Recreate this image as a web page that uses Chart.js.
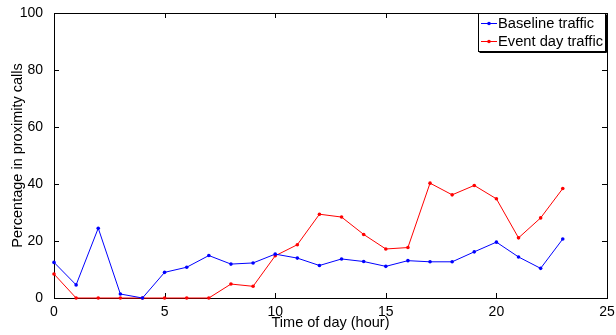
<!DOCTYPE html>
<html>
<head>
<meta charset="utf-8">
<script src="https://cdn.jsdelivr.net/npm/chart.js@4.4.0/dist/chart.umd.min.js"></script>
<style>
  html, body { margin: 0; padding: 0; background: #fff; }
  #wrap { width: 616px; height: 335px; }
</style>
</head>
<body>
<div id="wrap"><canvas id="chart" width="616" height="335"></canvas></div>
<script>
// 数据
const hours = [0, 1, 2, 3, 4, 5, 6, 7, 8, 9, 10, 11, 12, 13, 14, 15, 16, 17, 18, 19, 20, 21, 22, 23];
const baselineTraffic = [12.5, 4.6, 24.5, 1.4, 0, 9.0, 10.8, 14.9, 11.9, 12.3, 15.4, 14.0, 11.4, 13.7, 12.8, 11.1, 13.1, 12.7, 12.7, 16.2, 19.6, 14.4, 10.4, 20.7];
const eventTraffic = [8.4, 0, 0, 0, 0, 0, 0, 0, 4.9, 4.1, 14.8, 18.7, 29.4, 28.4, 22.3, 17.2, 17.7, 40.3, 36.2, 39.5, 34.8, 21.1, 28.1, 38.4];
const xTicks = [0, 5, 10, 15, 20, 25];
const yTicks = [0, 20, 40, 60, 80, 100];
const seriesLabels = ['Baseline traffic', 'Event day traffic'];
const seriesColors = ['#0000ff', '#ff0000'];

const FONT = '"Liberation Sans", Arial, Helvetica, sans-serif';

function toPoints(values) {
    return hours.map((h, i) => ({ x: h, y: values[i] }));
}

// 边框和向内的刻度（MATLAB 风格）
const framePlugin = {
    id: 'frame',
    beforeDatasetsDraw(chart) {
        const { ctx, chartArea: a, scales } = chart;
        const len = 5;
        ctx.save();
        ctx.strokeStyle = '#000';
        ctx.lineWidth = 1;
        xTicks.forEach(v => {
            const px = Math.round(scales.x.getPixelForValue(v)) + 0.5;
            ctx.beginPath();
            ctx.moveTo(px, a.bottom); ctx.lineTo(px, a.bottom - len);
            ctx.moveTo(px, a.top); ctx.lineTo(px, a.top + len);
            ctx.stroke();
        });
        yTicks.forEach(v => {
            const py = Math.round(scales.y.getPixelForValue(v)) + 0.5;
            ctx.beginPath();
            ctx.moveTo(a.left, py); ctx.lineTo(a.left + len, py);
            ctx.moveTo(a.right, py); ctx.lineTo(a.right - len, py);
            ctx.stroke();
        });
        ctx.strokeRect(Math.round(a.left) + 0.5, Math.round(a.top) + 0.5,
            Math.round(a.right - a.left), Math.round(a.bottom - a.top));
        ctx.restore();
    },
    afterDraw(chart) {
        // 图例，放在右上角图内
        const { ctx, chartArea: a } = chart;
        const w = 127, h = 38;
        const x0 = Math.round(a.right) - w - 2, y0 = Math.round(a.top);
        ctx.save();
        ctx.fillStyle = '#fff';
        ctx.fillRect(x0, y0, w, h);
        ctx.strokeStyle = '#000';
        ctx.lineWidth = 1;
        ctx.strokeRect(x0 + 0.5, y0 + 0.5, w, h);
        ctx.beginPath();
        ctx.moveTo(x0 + 1.5, y0 + h + 1.5); ctx.lineTo(x0 + w + 1.5, y0 + h + 1.5); ctx.lineTo(x0 + w + 1.5, y0 + 1.5);
        ctx.stroke();
        ctx.font = '14.7px ' + FONT;
        ctx.textBaseline = 'middle';
        seriesLabels.forEach((label, i) => {
            const cy = y0 + 10.5 + i * 18;
            ctx.strokeStyle = seriesColors[i];
            ctx.beginPath();
            ctx.moveTo(x0 + 3, cy); ctx.lineTo(x0 + 19, cy);
            ctx.stroke();
            ctx.fillStyle = seriesColors[i];
            ctx.beginPath();
            ctx.arc(x0 + 11, cy, 1.8, 0, Math.PI * 2);
            ctx.fill();
            ctx.fillStyle = '#000';
            ctx.fillText(label, x0 + 20, cy + 0.5);
        });
        ctx.restore();
    }
};

new Chart(document.getElementById('chart'), {
    type: 'line',
    data: {
        datasets: [
            {
                label: seriesLabels[0],
                data: toPoints(baselineTraffic),
                borderColor: seriesColors[0],
                backgroundColor: seriesColors[0],
                borderWidth: 1,
                pointRadius: 1.8,
                pointBorderWidth: 0,
                tension: 0,
                clip: false
            },
            {
                label: seriesLabels[1],
                data: toPoints(eventTraffic),
                borderColor: seriesColors[1],
                backgroundColor: seriesColors[1],
                borderWidth: 1,
                pointRadius: 1.8,
                pointBorderWidth: 0,
                tension: 0,
                clip: false
            }
        ]
    },
    options: {
        responsive: false,
        animation: false,
        layout: { padding: { top: 13, right: 9, left: 0, bottom: 0 } },
        plugins: {
            legend: { display: false },
            tooltip: { enabled: false }
        },
        scales: {
            x: {
                type: 'linear',
                min: 0,
                max: 25,
                grid: { display: false },
                border: { display: false },
                afterBuildTicks: s => { s.ticks = xTicks.map(v => ({ value: v })); },
                afterFit: s => { s.height = 37; },
                ticks: { color: '#000', font: { family: FONT, size: 14 }, padding: -2, maxRotation: 0 },
                title: {
                    display: true,
                    text: 'Time of day (hour)',
                    color: '#000',
                    font: { family: FONT, size: 14.5 },
                    padding: { top: 0, bottom: 3 }
                }
            },
            y: {
                min: 0,
                max: 100,
                grid: { display: false },
                border: { display: false },
                afterBuildTicks: s => { s.ticks = yTicks.map(v => ({ value: v })); },
                afterFit: s => { s.width = 54; },
                ticks: { color: '#000', font: { family: FONT, size: 14 }, padding: 3 },
                title: {
                    display: true,
                    text: 'Percentage in proximity calls',
                    color: '#000',
                    font: { family: FONT, size: 14.5 },
                    padding: { top: 9, bottom: 0 }
                }
            }
        }
    },
    plugins: [framePlugin]
});
</script>
</body>
</html>
